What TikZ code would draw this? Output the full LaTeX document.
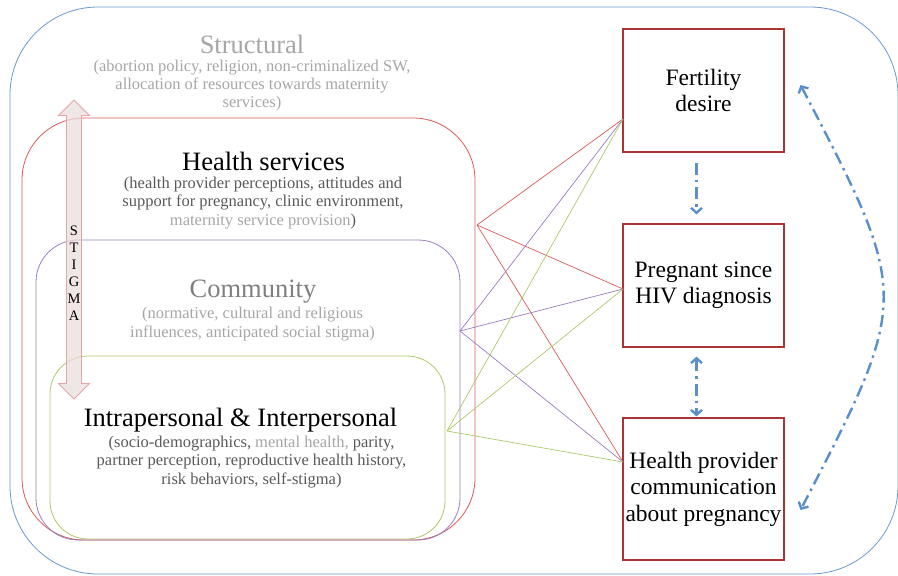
\documentclass[tikz,border=0pt]{standalone}
\usepackage{fontspec}
\setmainfont{Liberation Serif}
\usepackage{xcolor}
\usetikzlibrary{arrows.meta}

\definecolor{frameblue}{HTML}{6A9AD0}
\definecolor{ringred}{HTML}{D85A57}
\definecolor{ringpurple}{HTML}{9A7CC0}
\definecolor{ringgreen}{HTML}{ADC86A}
\definecolor{boxred}{HTML}{AA3333}
\definecolor{flowblue}{HTML}{5B8FCB}
\definecolor{lightgray}{HTML}{A6A6A6}
\definecolor{midgray}{HTML}{7F7F7F}
\definecolor{darkgray}{HTML}{595959}
\definecolor{stigmafill}{HTML}{EADDDD}
\definecolor{stigmaedge}{HTML}{E6A5A5}

\begin{document}
\begin{tikzpicture}[
x=1pt,y=-1pt,
>={Straight Barb[length=5pt,width=11pt]},
every node/.style={inner sep=0pt},
ring/.style={draw,line width=0.8pt,rounded corners=#1},
ringtitle/.style={font=\fontsize{26.5}{29}\selectfont},
ringtext/.style={font=\fontsize{16.5}{18.3}\selectfont,align=center},
outcome/.style={draw=boxred,line width=1.1pt,minimum width=161pt,align=center,font=\fontsize{23.5}{26.5}\selectfont},
link/.style={line width=0.7pt},
flow/.style={draw=flowblue,line width=2.4pt,dash pattern=on 12pt off 5pt on 2.5pt off 5pt}
]
\useasboundingbox (0,0) rectangle (898,576);

% Nested levels
\node[ring=88pt,draw=frameblue,minimum width=888pt,minimum height=567pt] (structural) at (454,290.5) {};
\node[ring=62pt,draw=ringred,minimum width=453pt,minimum height=422pt] (health) at (248.5,329) {};
\node[ring=42pt,draw=ringpurple,minimum width=424pt,minimum height=300pt] (community) at (248,390) {};
\node[ring=38pt,draw=ringgreen,minimum width=395pt,minimum height=183pt] (personal) at (247.5,447.5) {};

% Level labels
\node[ringtitle,text=lightgray] (structT) at (252,44) {Structural};
\node[ringtext,text=lightgray] (structS) at (252,85.5) {(abortion policy, religion, non-criminalized SW,\\allocation of resources towards maternity\\services)};

\node[ringtitle] (healthT) at (263.5,161) {Health services};
\node[ringtext,text=darkgray] (healthS) at (263,203) {(health provider perceptions, attitudes and\\support for pregnancy, clinic environment,\\{\color{lightgray}maternity service provision})};

\node[ringtitle,text=midgray] (communityT) at (253,292) {Community};
\node[ringtext,text=lightgray] (communityS) at (252.5,324) {(normative, cultural and religious\\influences, anticipated social stigma)};

\node[ringtitle] (personalT) at (240.5,420) {Intrapersonal \& Interpersonal};
\node[ringtext,text=darkgray] (personalS) at (251.5,462) {(socio-demographics, {\color{lightgray}mental health,} parity,\\partner perception, reproductive health history,\\risk behaviors, self-stigma)};

% Stigma arrow
\filldraw[fill=stigmafill,draw=stigmaedge,fill opacity=0.75,line width=0.8pt]
(74,100) -- (89.5,115.5) -- (81.5,115.5) -- (81.5,383.5) -- (89.5,383.5) -- (74,399)
-- (58.5,383.5) -- (66.5,383.5) -- (66.5,115.5) -- (58.5,115.5) -- cycle;
\node[font=\fontsize{14.5}{17}\selectfont,align=center] (stigma) at (74,273) {S\\T\\I\\G\\M\\A};

% Outcomes
\node[outcome,minimum height=123pt] (fert) at (703.5,90.5) {Fertility\\desire};
\node[outcome,minimum height=123pt] (preg) at (703.5,285.5) {Pregnant since\\HIV diagnosis};
\node[outcome,minimum height=142pt] (comm) at (703.5,489) {Health provider\\communication\\about pregnancy};

% Ports
\coordinate (healthport) at (477,225);
\coordinate (communityport) at (460,331);
\coordinate (personalport) at (447,431);
\coordinate (fertin) at (623,119);
\coordinate (pregin) at (623,289);
\coordinate (commin) at (623,462);

% Level links
\draw[link,ringred] (healthport) -- (fertin);
\draw[link,ringred] (healthport) -- (pregin);
\draw[link,ringred] (healthport) -- (commin);
\draw[link,ringpurple] (communityport) -- (fertin);
\draw[link,ringpurple] (communityport) -- (pregin);
\draw[link,ringpurple] (communityport) -- (commin);
\draw[link,ringgreen] (personalport) -- (fertin);
\draw[link,ringgreen] (personalport) -- (pregin);
\draw[link,ringgreen] (personalport) -- (commin);

% Outcome flows
\draw[flow,->,shorten <=10pt,shorten >=9pt] ([xshift=-7pt]fert.south) -- ([xshift=-7pt]preg.north);
\draw[flow,<->,shorten <=9pt,shorten >=1pt] ([xshift=-7pt]preg.south) -- ([xshift=-7pt]comm.north);
\draw[flow,<->] ([shift={(16,-5.5)}]fert.east) .. controls (911,297) .. ([shift={(16,21)}]comm.east);

\end{tikzpicture}
\end{document}
